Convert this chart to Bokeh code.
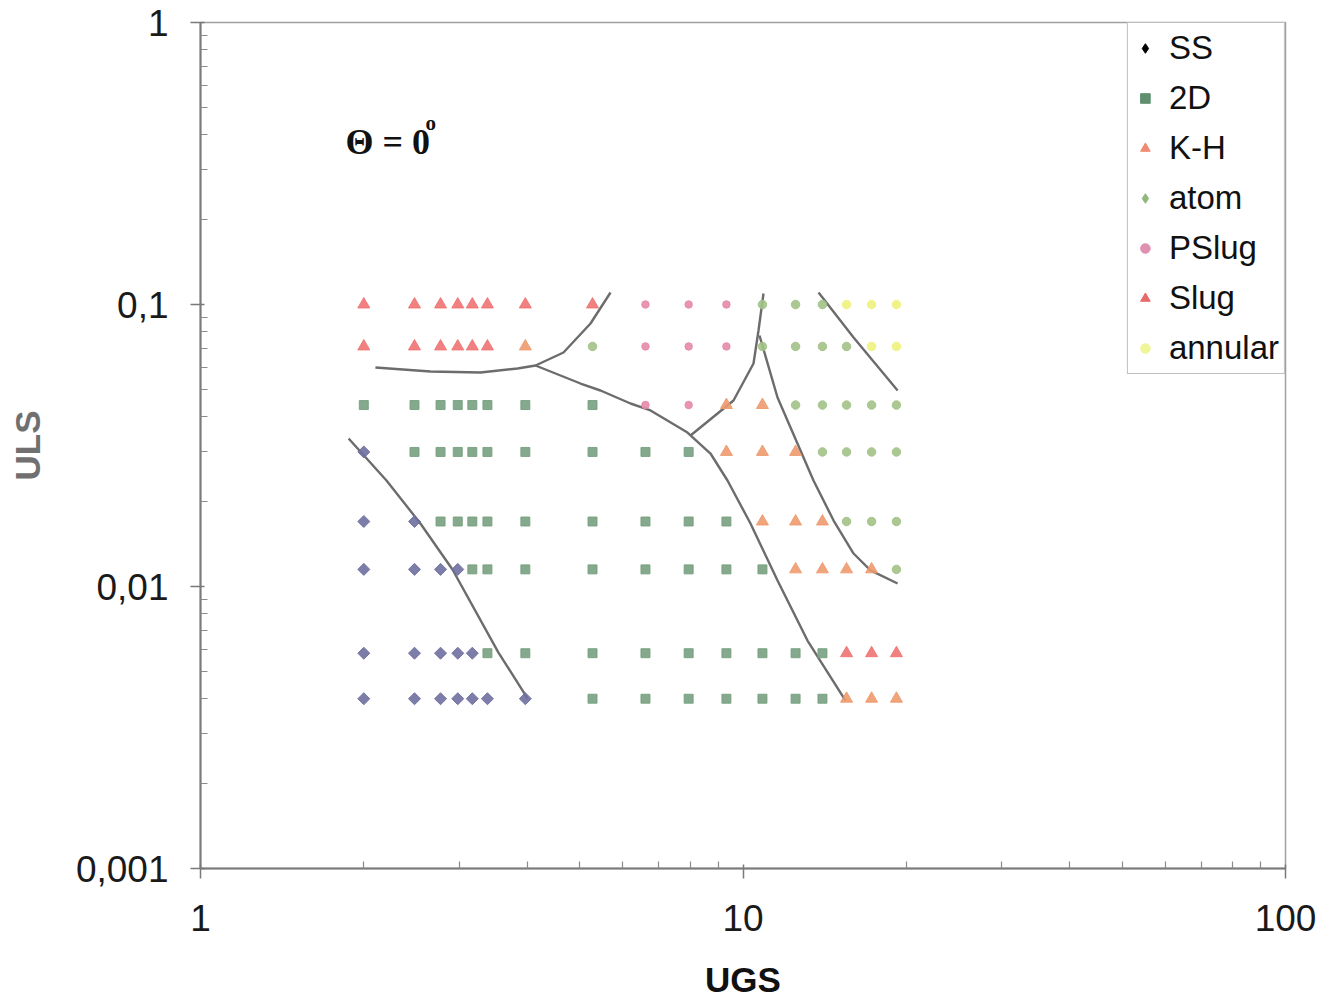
import math
from bokeh.plotting import figure
from bokeh.models import (Legend, LegendItem, Label, FixedTicker,
                          CustomJSTickFormatter)
from bokeh.embed import file_html
from bokeh.resources import INLINE

# ---------------- data ----------------
ugs_values = [2.0, 2.48, 2.77, 2.98, 3.17, 3.38, 3.97, 5.28, 6.61, 7.94,
              9.32, 10.86, 12.5, 14.01, 15.52, 17.26, 19.18]
uls_values = [0.1, 0.071, 0.044, 0.030, 0.017, 0.0115, 0.0058, 0.004]

# X=SS, D=2D, K=K-H, A=atom, P=PSlug, S=Slug, N=annular (one row per ULS)
regime_rows = [
    "S S S S S S S S P P P A A A N N N",
    "S S S S S S K A P P P A A A A N N",
    "D D D D D D D D P P K K A A A A A",
    "X D D D D D D D D D K K K A A A A",
    "X X D D D D D D D D D K K K A A A",
    "X X X X D D D D D D D D K K K K A",
    "X X X X X D D D D D D D D D S S S",
    "X X X X X X X D D D D D D D K K K",
]

series_names = ["SS", "2D", "K-H", "atom", "PSlug", "Slug", "annular"]
series_codes = ["X", "D", "K", "A", "P", "S", "N"]

# transition boundaries (UGS, ULS)
b1_ugs = [1.875, 2.202, 2.545, 2.914, 3.542, 4.007]
b1_uls = [0.0335, 0.02376, 0.0167, 0.01149, 0.00583, 0.00401]

b2_ugs = [2.101, 2.654, 3.282, 3.840, 4.145, 4.668, 5.235, 5.699]
b2_uls = [0.05979, 0.05787, 0.0574, 0.0593, 0.06077, 0.06758, 0.08563, 0.11031]

b3_ugs = [4.145, 5.017, 5.462, 6.204, 6.754, 7.901, 8.711, 9.363, 10.323,
          11.578, 13.148, 15.452]
b3_uls = [0.06077, 0.05246, 0.04955, 0.04456, 0.04209, 0.03516, 0.02962,
          0.02376, 0.01673, 0.0105, 0.00643, 0.00394]

b4_ugs = [8.003, 9.605, 10.456, 10.68, 10.909]
b4_uls = [0.03431, 0.04566, 0.06177, 0.08087, 0.10941]

b5_ugs = [10.725, 11.578, 12.763, 13.487, 14.689, 15.989, 17.18, 19.275]
b5_uls = [0.07764, 0.04679, 0.03036, 0.02376, 0.01714, 0.01309, 0.0114, 0.01025]

b6_ugs = [13.78, 15.989, 19.275]
b6_uls = [0.11031, 0.0764, 0.04955]

x_major = [1, 10, 100]
y_major = [0.001, 0.01, 0.1, 1]

# ---------------- styles ----------------
point_style = {
    "SS":      dict(marker="square",   color="#6f6fa0", size=8.5, angle=math.pi / 4),
    "2D":      dict(marker="square",   color="#77a07f", size=9, angle=0),
    "K-H":     dict(marker="triangle", color="#ee9a6e", size=12, angle=0),
    "atom":    dict(marker="circle",   color="#a2c286", size=8.5, angle=0),
    "PSlug":   dict(marker="circle",   color="#e58aa8", size=7.5, angle=0),
    "Slug":    dict(marker="triangle", color="#f07272", size=12, angle=0),
    "annular": dict(marker="circle",   color="#eef27c", size=8.5, angle=0),
}
legend_marker = {
    "SS": "diamond", "2D": "square", "K-H": "triangle", "atom": "diamond",
    "PSlug": "circle", "Slug": "triangle", "annular": "circle",
}
legend_color = {
    "SS": "#000000", "2D": "#5f8f6f", "K-H": "#f08a70", "atom": "#8fb87a",
    "PSlug": "#e090b0", "Slug": "#e86a6a", "annular": "#f0f59a",
}

p = figure(width=1326, height=1003, x_axis_type="log", y_axis_type="log",
           x_range=(1, 100), y_range=(0.001, 1),
           output_backend="svg", toolbar_location=None,
           min_border_left=200, min_border_right=41,
           min_border_top=22, min_border_bottom=135)

p.background_fill_color = "white"
p.border_fill_color = "white"
p.outline_line_color = "#a0a0a0"
p.outline_line_width = 1.5
p.grid.visible = False

# boundaries
for bx, by in [(b1_ugs, b1_uls), (b2_ugs, b2_uls), (b3_ugs, b3_uls),
               (b4_ugs, b4_uls), (b5_ugs, b5_uls), (b6_ugs, b6_uls)]:
    p.line(bx, by, line_color="#6c6c6c", line_width=2.4)

# points
legend_items = []
nan = float("nan")
for name, code in zip(series_names, series_codes):
    xs, ys = [], []
    for yv, row in zip(uls_values, regime_rows):
        for xv, c in zip(ugs_values, row.split()):
            if c == code:
                xs.append(xv)
                ys.append(yv)
    st = point_style[name]
    p.scatter(xs, ys, marker=st["marker"], size=st["size"], angle=st["angle"],
              fill_color=st["color"], line_color=st["color"], alpha=0.9)
    # legend-only renderer (no visible point)
    dummy = p.scatter([nan], [nan], marker=legend_marker[name],
                      fill_color=legend_color[name],
                      line_color=legend_color[name])
    legend_items.append(LegendItem(label=name, renderers=[dummy]))

legend = Legend(items=legend_items, location="top_right", margin=0,
                padding=5, spacing=10, glyph_width=24, glyph_height=40,
                label_height=40, label_standoff=12,
                label_text_font="Liberation Sans", label_text_font_size="33px",
                label_text_color="#111111",
                border_line_color="#808080", border_line_width=1.5,
                background_fill_color="white", background_fill_alpha=1.0)
p.add_layout(legend)

# annotation text
p.add_layout(Label(x=1.851, y=0.3754, text="Θ = 0", text_font="Liberation Serif",
                   text_font_style="bold", text_font_size="36px",
                   text_color="#111111", text_baseline="alphabetic"))
p.add_layout(Label(x=2.6, y=0.44, text="o", text_font="Liberation Serif",
                   text_font_style="bold", text_font_size="21px",
                   text_color="#111111", text_baseline="alphabetic"))

# axes
p.xaxis.ticker = FixedTicker(ticks=x_major,
                             minor_ticks=[2, 3, 4, 5, 6, 7, 8, 9,
                                          20, 30, 40, 50, 60, 70, 80, 90])
p.yaxis.ticker = FixedTicker(ticks=y_major,
                             minor_ticks=[0.002, 0.003, 0.004, 0.005, 0.006,
                                          0.007, 0.008, 0.009,
                                          0.02, 0.03, 0.04, 0.05, 0.06, 0.07,
                                          0.08, 0.09,
                                          0.2, 0.3, 0.4, 0.5, 0.6, 0.7, 0.8, 0.9])
fmt = CustomJSTickFormatter(code="return String(tick).replace('.', ',');")
p.xaxis.formatter = fmt
p.yaxis.formatter = fmt

for ax in (p.xaxis, p.yaxis):
    ax.axis_line_color = "#7a7a7a"
    ax.axis_line_width = 2
    ax.major_tick_line_color = "#7a7a7a"
    ax.minor_tick_line_color = "#8a8a8a"
    ax.major_tick_line_width = 1.5
    ax.minor_tick_line_width = 1.2
    ax.major_tick_in = 4
    ax.major_tick_out = 10
    ax.minor_tick_in = 7
    ax.minor_tick_out = 0
    ax.major_label_text_font = "Liberation Sans"
    ax.major_label_text_font_size = "37px"
    ax.major_label_text_color = "#1a1a1a"
    ax.axis_label_text_font = "Liberation Sans"
    ax.axis_label_text_font_style = "bold"
    ax.axis_label_text_font_size = "35px"

p.xaxis.major_label_standoff = 26
p.yaxis.major_label_standoff = 22
p.xaxis.axis_label = "UGS"
p.xaxis.axis_label_text_color = "#111111"
p.xaxis.axis_label_standoff = 26
p.yaxis.axis_label = "ULS"
p.yaxis.axis_label_text_color = "#707070"
p.yaxis.axis_label_standoff = 26

open("out.html", "w").write(file_html(p, INLINE))
